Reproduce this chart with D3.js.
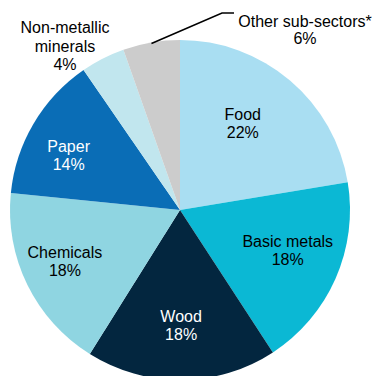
<!DOCTYPE html>
<html><head><meta charset="utf-8">
<script src="https://cdn.jsdelivr.net/npm/d3@7"></script>
<style>html,body{margin:0;padding:0;background:#fff;}svg{display:block;}</style>
</head><body>
<svg id="c" width="372" height="376"></svg>
<script>
const categories = ["Food", "Basic metals", "Wood", "Chemicals", "Paper", "Non-metallic minerals", "Other sub-sectors*"];
// slice shares (percent)
const values = [22.4, 18.4, 18.1, 17.7, 13.8, 4.2, 5.4];
// percentages as printed on the chart
const pctLabels = ["22%", "18%", "18%", "18%", "14%", "4%", "6%"];
const colors = ["#a9def2", "#0bb8d4", "#03263f", "#8fd5e1", "#0a6db6", "#c1e6ee", "#cccccc"];
const textColors = ["#000", "#000", "#fff", "#000", "#fff", "#000", "#000"];
const nameLines = [["Food"],["Basic metals"],["Wood"],["Chemicals"],["Paper"],["Non-metallic","minerals"],["Other sub-sectors*"]];

const svg = d3.select("#c");
const cx = 180, cy = 210, R = 170;
const g = svg.append("g").attr("transform", `translate(${cx},${cy})`);
const data = categories.map((c, i) => ({c, v: values[i], i}));
const pie = d3.pie().value(d => d.v).sort(null);
const arcs = pie(data);
const arc = d3.arc().innerRadius(0).outerRadius(R);

g.selectAll("path").data(arcs).join("path")
  .attr("d", arc).attr("fill", d => colors[d.data.i]);

const font = "Liberation Sans, Arial, sans-serif";
const fs = 16, lh = 18.3;

// label placement: radius and angular nudge (degrees) relative to slice middle
const labelPlace = [[107, -4.4], [115, -3.3], [115, 0], [126, 2.1], [124, -4.5]];
arcs.forEach(a => {
  const i = a.data.i;
  if (i >= 5) return;
  const [r, da] = labelPlace[i];
  const ang = (a.startAngle + a.endAngle) / 2 + da * Math.PI / 180;
  const x = Math.sin(ang) * r, y = -Math.cos(ang) * r;
  const lines = nameLines[i].concat([pctLabels[i]]);
  const t = g.append("text").attr("text-anchor", "middle")
    .attr("font-family", font).attr("font-size", fs).attr("fill", textColors[i]);
  lines.forEach((l, k) => {
    t.append("tspan").attr("x", x).attr("y", y + (k - (lines.length - 1) / 2) * lh + 5.7).text(l);
  });
});

// Outside labels
function outside(lines, x, y, step) {
  const t = svg.append("text").attr("text-anchor", "middle")
    .attr("font-family", font).attr("font-size", fs).attr("fill", "#000");
  lines.forEach((l, k) => t.append("tspan").attr("x", x).attr("y", y + k * step).text(l));
}
outside(nameLines[5].concat([pctLabels[5]]), 65, 33, 18.5);
outside(nameLines[6].concat([pctLabels[6]]), 305, 26.5, 17.5);

// leader line for Other sub-sectors
const oa = arcs[6];
const mid = (oa.startAngle + oa.endAngle) / 2;
const px = cx + Math.sin(mid) * (R - 1), py = cy - Math.cos(mid) * (R - 1);
svg.append("path")
  .attr("d", `M${px},${py}L222,13L234,13`)
  .attr("fill", "none").attr("stroke", "#000").attr("stroke-width", 1.6);
</script>
</body></html>
